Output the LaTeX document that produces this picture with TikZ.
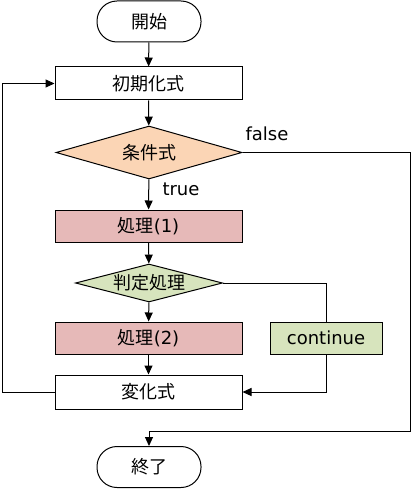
\documentclass[tikz,border=0pt]{standalone}
\usepackage{fontspec}
\setmainfont{DejaVu Sans}
\newfontfamily\cjk{Noto Sans CJK JP}
\usetikzlibrary{shapes.geometric,arrows.meta}
\definecolor{peach}{HTML}{FBD5B5}
\definecolor{rosy}{HTML}{E6B9B8}
\definecolor{sage}{HTML}{D7E4BD}
\begin{document}
\begin{tikzpicture}[x=1pt,y=-1pt,
  font=\fontsize{18}{20}\selectfont,
  line width=1pt,
  arr/.style={-{Triangle[length=9pt,width=8pt]}},
  term/.style={draw,rounded corners=20pt,minimum width=104pt,minimum height=41pt,inner sep=0pt},
  box/.style={draw,minimum width=187pt,minimum height=33pt,inner sep=0pt},
  dia/.style={draw,diamond,inner sep=0pt},
  lbl/.style={inner sep=0pt}]
\useasboundingbox (0,0) rectangle (412,489);
\node[term] (start) at (149,21.5) {\cjk 開始};
\node[box] (init) at (148.5,83.5) {\cjk 初期化式};
\node[dia,fill=peach,aspect=3.5,minimum width=186pt,minimum height=53pt] (cond) at (149,152.5) {\cjk 条件式};
\node[box,fill=rosy,minimum height=32pt] (p1) at (148.5,226) {{\cjk 処理}(1)};
\node[dia,fill=sage,aspect=4.5,minimum width=144pt,minimum height=38pt] (judge) at (149,283) {\cjk 判定処理};
\node[box,fill=rosy,minimum height=32pt] (p2) at (148.5,338) {{\cjk 処理}(2)};
\node[box,fill=sage,minimum width=112pt,minimum height=32pt] (cont) at (326,338) {continue};
\node[box,minimum height=34pt] (change) at (148.5,392) {\cjk 変化式};
\node[term] (end) at (149,467) {\cjk 終了};
\node[lbl,anchor=west] (false) at (245,134) {false};
\node[lbl,anchor=west] (true) at (162,189) {true};
\coordinate (fr) at (410,152.5);
\coordinate (fb) at (410,431);
\coordinate (fe) at (149,431);
\coordinate (lb) at (2,392);
\draw[arr] (start) -- (init);
\draw[arr] (init) -- (cond);
\draw[arr] (cond) -- (p1);
\draw[arr] (p1) -- (judge);
\draw[arr] (judge) -- (p2);
\draw[arr] (p2) -- (change);
\draw (judge.east) -| (cont.north);
\draw[arr] (cont.south) |- (change.east);
\draw[arr] (change.west) -- (lb) |- (init.west);
\draw[arr] (cond.east) -- (fr) -- (fb) -- (fe) -- (end.north);
\end{tikzpicture}
\end{document}
